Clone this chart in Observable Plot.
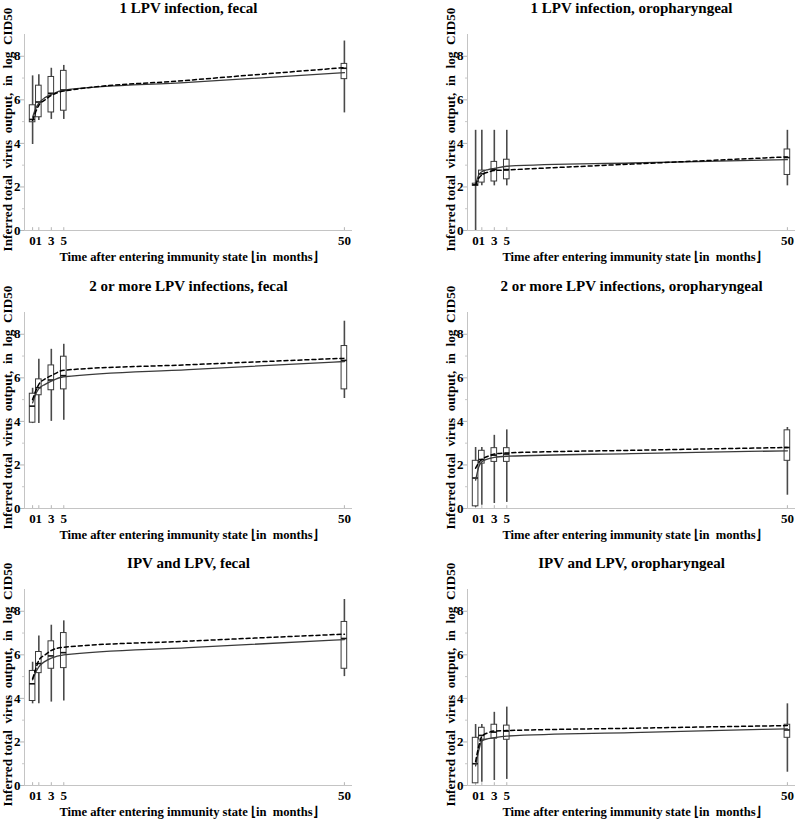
<!DOCTYPE html>
<html>
<head>
<meta charset="utf-8">
<script src="https://cdn.jsdelivr.net/npm/d3@7"></script>
<script src="https://cdn.jsdelivr.net/npm/@observablehq/plot@0.6"></script>
<style>
  html, body { margin: 0; padding: 0; background: #fff; }
  #root { position: relative; width: 795px; height: 819px; overflow: hidden; }
  .panel { position: absolute; width: 400px; height: 277px; }
  .panel svg { overflow: visible; max-width: none !important; }
  .panel svg text { font-family: 'Liberation Serif', 'Times New Roman', serif; font-weight: bold; }
</style>
</head>
<body>
<div id="root"></div>
<script>
// ---------- data ----------
const titles = [
  "1 LPV infection, fecal",
  "1 LPV infection, oropharyngeal",
  "2 or more LPV infections, fecal",
  "2 or more LPV infections, oropharyngeal",
  "IPV and LPV, fecal",
  "IPV and LPV, oropharyngeal"
];
const yLabel = "Inferred total\u00a0 virus\u00a0 output,\u00a0 in\u00a0 log\u00a0 CID50";
const xLabel = "Time after entering immunity state \u230Ain\u00a0 months\u230B";
const xTicks = [0, 1, 3, 5, 50];
const yTicks = [0, 2, 4, 6, 8];
const yMinorTicks = [1, 3, 5, 7];
const xDomain = [-1.3, 51.3];
const yDomain = [0, 9];

// box plots at each time point (one row per panel)
const boxX = [0, 1, 3, 5, 50];
const whiskerLow = [
  [3.95, 5.05, 5.1, 5.1, 5.4],
  [0.0, 2.05, 2.05, 2.05, 2.05],
  [3.9, 3.9, 4.0, 4.05, 5.05],
  [0.05, 0.15, 0.23, 0.28, 0.61],
  [3.75, 3.75, 3.83, 3.88, 5.0],
  [0.1, 0.15, 0.23, 0.28, 0.61]
];
const quart1 = [
  [4.97, 5.2, 5.42, 5.5, 6.95],
  [2.05, 2.2, 2.25, 2.35, 2.55],
  [3.94, 5.2, 5.43, 5.47, 5.47],
  [0.1, 2.06, 2.14, 2.14, 2.19],
  [3.88, 5.16, 5.36, 5.39, 5.36],
  [0.1, 2.11, 2.15, 2.1, 2.19]
];
const medians = [
  [5.1, 5.9, 6.3, 6.45, 7.45],
  [2.1, 2.6, 2.8, 2.8, 3.35],
  [4.7, 5.55, 5.9, 6.1, 6.8],
  [1.4, 2.25, 2.45, 2.5, 2.8],
  [4.67, 5.6, 5.95, 6.1, 6.75],
  [1.0, 2.3, 2.45, 2.5, 2.55]
];
const quart3 = [
  [5.75, 6.65, 7.05, 7.33, 7.65],
  [2.15, 2.75, 3.15, 3.25, 3.72],
  [5.27, 5.93, 6.57, 6.97, 7.46],
  [2.19, 2.65, 2.77, 2.77, 3.59],
  [5.26, 6.13, 6.62, 7.0, 7.51],
  [2.19, 2.65, 2.79, 2.75, 2.79]
];
const whiskerHigh = [
  [7.1, 7.15, 7.45, 7.58, 8.7],
  [4.6, 4.6, 4.6, 4.6, 4.6],
  [5.52, 6.85, 7.31, 7.54, 8.6],
  [2.8, 2.8, 3.36, 3.61, 3.72],
  [5.66, 6.87, 7.36, 7.56, 8.54],
  [2.8, 2.8, 3.36, 3.6, 3.75]
];

// model curves (solid and dashed), read at these times
const curveX = [0, 0.5, 1, 2, 3, 5, 25, 50];
const solidCurve = [
  [5.2, 5.6, 5.85, 6.1, 6.25, 6.45, 6.8, 7.25],
  [2.1, 2.55, 2.7, 2.8, 2.85, 2.95, 3.1, 3.25],
  [4.85, 5.25, 5.5, 5.7, 5.85, 6.05, 6.38, 6.75],
  [1.3, 1.9, 2.15, 2.28, 2.35, 2.4, 2.52, 2.65],
  [4.85, 5.2, 5.45, 5.7, 5.85, 6.0, 6.33, 6.7],
  [0.9, 1.6, 2.05, 2.15, 2.2, 2.27, 2.43, 2.6]
];
const dashedCurve = [
  [5.05, 5.45, 5.75, 6.0, 6.2, 6.4, 6.9, 7.48],
  [2.1, 2.4, 2.55, 2.68, 2.75, 2.78, 3.05, 3.38],
  [5.0, 5.4, 5.7, 5.95, 6.1, 6.35, 6.6, 6.9],
  [1.85, 2.1, 2.25, 2.4, 2.5, 2.55, 2.67, 2.8],
  [4.9, 5.35, 5.75, 6.0, 6.2, 6.35, 6.63, 6.95],
  [1.1, 1.8, 2.25, 2.42, 2.5, 2.52, 2.63, 2.75]
];

// ---------- layout ----------
const colLeft = [0, 443];
const rowTop = [0, 278, 555];
const boxHalf = 0.45;
const serif = "'Liberation Serif', 'Times New Roman', serif";

function panel(i) {
  const boxes = boxX.map((x, j) => ({
    x, lo: whiskerLow[i][j], q1: quart1[i][j], med: medians[i][j],
    q3: quart3[i][j], hi: whiskerHigh[i][j]
  }));
  const solid = curveX.map((x, j) => ({x, y: solidCurve[i][j]}));
  const dashed = curveX.map((x, j) => ({x, y: dashedCurve[i][j]}));
  return Plot.plot({
    width: 400,
    height: 277,
    marginLeft: 24,
    marginRight: 48,
    marginTop: 34,
    marginBottom: 47,
    x: {domain: xDomain},
    y: {domain: yDomain},
    style: {
      fontFamily: serif,
      fontWeight: "bold",
      fontSize: "13px",
      color: "#000",
      background: "transparent",
      maxWidth: "none"
    },
    marks: [
      Plot.ruleX([xDomain[0]], {stroke: "#c4c4c4", strokeWidth: 1}),
      Plot.ruleY([yDomain[0]], {stroke: "#c4c4c4", strokeWidth: 1}),
      Plot.axisY({ticks: yTicks, tickSize: 4, stroke: "#b5b5b5", fill: "none", label: null}),
      Plot.axisY({ticks: yMinorTicks, tickSize: 2, stroke: "#c8c8c8", fill: "none", label: null}),
      Plot.axisY({ticks: yTicks, tickSize: 0, tickPadding: 4, fill: "#000", label: null, fontSize: 13, fontFamily: serif, fontWeight: "bold"}),
      Plot.ruleX(xTicks, {y1: 0, y2: 0.13, stroke: "#b5b5b5"}),
      Plot.axisX({ticks: xTicks, tickSize: 0, tickPadding: 5, fill: "#000", label: null, tickFormat: d => String(d), fontSize: 13, fontFamily: serif, fontWeight: "bold"}),
      // box plots
      Plot.ruleX(boxes, {x: "x", y1: "lo", y2: "hi", stroke: "#4a4a4a", strokeWidth: 1.6}),
      Plot.rect(boxes, {x1: d => d.x - boxHalf, x2: d => d.x + boxHalf, y1: "q1", y2: "q3", fill: "#fff", stroke: "#3a3a3a", strokeWidth: 1}),
      Plot.ruleY(boxes, {y: "med", x1: d => d.x - boxHalf, x2: d => d.x + boxHalf, stroke: "#111", strokeWidth: 1.6}),
      // model curves
      Plot.line(solid, {x: "x", y: "y", curve: "monotone-x", stroke: "#3a3a3a", strokeWidth: 1.3}),
      Plot.line(dashed, {x: "x", y: "y", curve: "monotone-x", stroke: "#000", strokeWidth: 1.5, strokeDasharray: "4,3"}),
      // texts
      Plot.text([titles[i]], {text: d => d, frameAnchor: "top", dy: -26, lineAnchor: "middle", fontSize: 15, fontWeight: "bold", fontFamily: serif, fill: "#000"}),
      Plot.text([yLabel], {text: d => d, frameAnchor: "left", rotate: -90, dx: -17, dy: -3, textAnchor: "middle", lineAnchor: "middle", fontSize: 13.2, fontWeight: "bold", fontFamily: serif, fill: "#000"}),
      Plot.text([xLabel], {text: d => d, frameAnchor: "bottom", dy: 26, lineAnchor: "middle", fontSize: 12.6, fontWeight: "bold", fontFamily: serif, fill: "#000"})
    ]
  });
}

const root = document.getElementById("root");
for (let i = 0; i < 6; i++) {
  const div = document.createElement("div");
  div.className = "panel";
  div.style.left = colLeft[i % 2] + "px";
  div.style.top = rowTop[Math.floor(i / 2)] + "px";
  div.appendChild(panel(i));
  root.appendChild(div);
}
</script>
</body>
</html>
